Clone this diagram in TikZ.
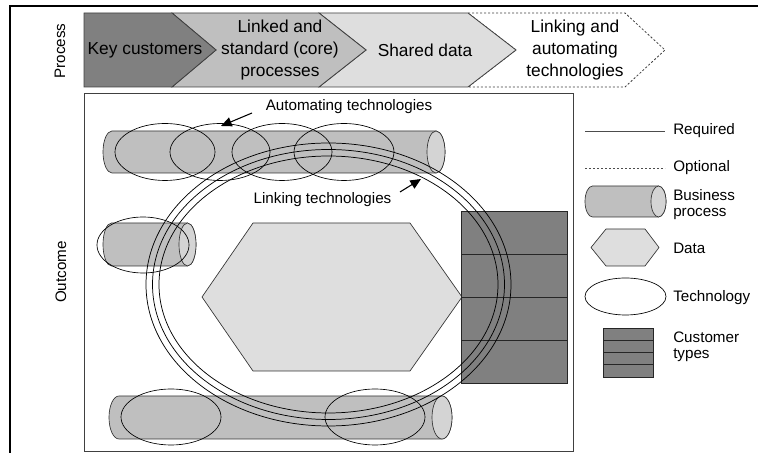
\documentclass[tikz,border=0pt]{standalone}
\usepackage{fontspec}
\setmainfont{Liberation Sans}
\usepackage{tikz}
\usepackage{xcolor}
\usetikzlibrary{shapes.geometric, arrows, arrows.meta, positioning}

% lying cylinder: left x, right x, centre y, end x radius, end y radius
\newcommand{\bizproc}[5]{%
  \draw[procbody] (#1,#3+#5) -- (#2,#3+#5)
    arc[start angle=90, end angle=-90, x radius=#4, y radius=#5]
    -- (#1,#3-#5)
    arc[start angle=270, end angle=90, x radius=#4, y radius=#5] -- cycle;
  \draw[procend] (#2,#3) ellipse[x radius=#4, y radius=#5];}

\begin{document}
\begin{tikzpicture}[
    x=0.75pt, y=0.75pt,
    chev/.style={draw=black!75, line width=0.6pt},
    chevtext/.style={align=center, font=\fontsize{13}{16.3}\selectfont},
    sidelabel/.style={rotate=90, font=\fontsize{11.4}{13}\selectfont},
    smalltext/.style={font=\fontsize{11.4}{13}\selectfont},
    legtext/.style={anchor=west, align=left, inner sep=0pt, font=\fontsize{11.4}{12}\selectfont},
    procbody/.style={draw=black!80, line width=0.5pt, fill=black!25},
    procend/.style={draw=black!80, line width=0.5pt, fill=black!17},
    tech/.style={draw=black, line width=0.5pt},
    ring/.style={draw=black, line width=0.55pt},
    datahex/.style={draw=black!80, line width=0.5pt, fill=black!13},
    custrow/.style={draw=black!85, line width=0.7pt, fill=black!50},
    pointer/.style={-{Triangle[length=8pt, width=7pt]}, line width=0.8pt}
]
    \useasboundingbox (0,0) rectangle (758,453);

    % Frame
    \draw[line width=1.6pt] (10,0) -- (10,447) -- (758,447);

    % Side labels
    \node[sidelabel] (process) at (60,402) {Process};
    \node[sidelabel] (outcome) at (61,181) {Outcome};

    % Process chevrons
    \draw[chev, dash pattern=on 1.6pt off 1.4pt, fill=white] (468,440) -- (625,440) -- (665,403) -- (625,366) -- (468,366) -- (516,403) -- cycle;
    \draw[chev, fill=black!13] (319,440) -- (468,440) -- (516,403) -- (468,366) -- (319,366) -- (366,403) -- cycle;
    \draw[chev, fill=black!25] (172,440) -- (319,440) -- (366,403) -- (319,366) -- (172,366) -- (216,403) -- cycle;
    \draw[chev, fill=black!50] (84,440) -- (172,440) -- (216,403) -- (172,366) -- (84,366) -- cycle;

    \node[chevtext] (keycust) at (145,403) {Key customers};
    \node[chevtext] (linked) at (280,403) {Linked and\\standard (core)\\processes};
    \node[chevtext] (shared) at (425,403) {Shared data};
    \node[chevtext] (linking) at (575,403) {Linking and\\automating\\technologies};

    % Outcome box
    \draw[draw=black!75, line width=0.6pt] (84,2) rectangle (573,360);

    % Top business process
    \bizproc{112}{436}{301}{9}{21}
    \foreach \cx in {165,220,282,344}
        \draw[tech] (\cx,301) ellipse[x radius=50, y radius=28.5];

    % Left business process
    \bizproc{111.5}{187.5}{208.5}{8.5}{21.5}
    \draw[tech] (143,208) ellipse[x radius=46, y radius=28];

    % Shared data
    \draw[datahex] (253,230) -- (410,230) -- (462,156) -- (410,82) -- (253,82) -- (202,156) -- cycle;

    % Customer types
    \foreach \i in {0,...,3}
        \draw[custrow] (461,70+\i*43) rectangle (567,113+\i*43);

    % Bottom business process
    \bizproc{119}{442}{35.5}{10}{21.5}
    \foreach \cx in {171,375}
        \draw[tech] (\cx,36) ellipse[x radius=50, y radius=28];

    % Linking ring
    \foreach \r in {0,6.5,13}
        \draw[ring] (328.5,168.5) ellipse[x radius=182.5-\r, y radius=141.5-\r];

    % Callouts
    \node[smalltext] (automating) at (349,346) {Automating technologies};
    \coordinate (autotail) at (252,340);
    \coordinate (autohead) at (221,327);
    \draw[pointer] (autotail) -- (autohead);

    \node[smalltext] (linkingtech) at (322.5,253) {Linking technologies};
    \coordinate (linktail) at (400,261);
    \coordinate (linkhead) at (421,274);
    \draw[pointer] (linktail) -- (linkhead);

    % Legend
    \coordinate (reqa) at (585,322);
    \coordinate (reqb) at (665,322);
    \draw[line width=0.6pt, black!70] (reqa) -- (reqb);
    \node[legtext] (required) at (673,322) {Required};

    \coordinate (opta) at (585,285);
    \coordinate (optb) at (665,285);
    \draw[line width=0.6pt, black!70, dash pattern=on 1.6pt off 1.4pt] (opta) -- (optb);
    \node[legtext] (optional) at (673,285) {Optional};

    \bizproc{592.5}{658.5}{251.5}{7.5}{15.5}
    \node[legtext] (bizlegend) at (673,248) {Business\\process};

    \draw[datahex] (606,224) -- (645,224) -- (659,205.5) -- (645,187) -- (606,187) -- (591,205.5) -- cycle;
    \node[legtext] (datalegend) at (673,205) {Data};

    \draw[tech] (625.5,156.5) ellipse[x radius=40.5, y radius=18.5];
    \node[legtext] (techlegend) at (673,155) {Technology};

    \foreach \i in {0,...,3}
        \draw[custrow] (603,76+\i*12.25) rectangle (653,88.25+\i*12.25);
    \node[legtext] (custlegend) at (673,106) {Customer\\types};

\end{tikzpicture}
\end{document}
